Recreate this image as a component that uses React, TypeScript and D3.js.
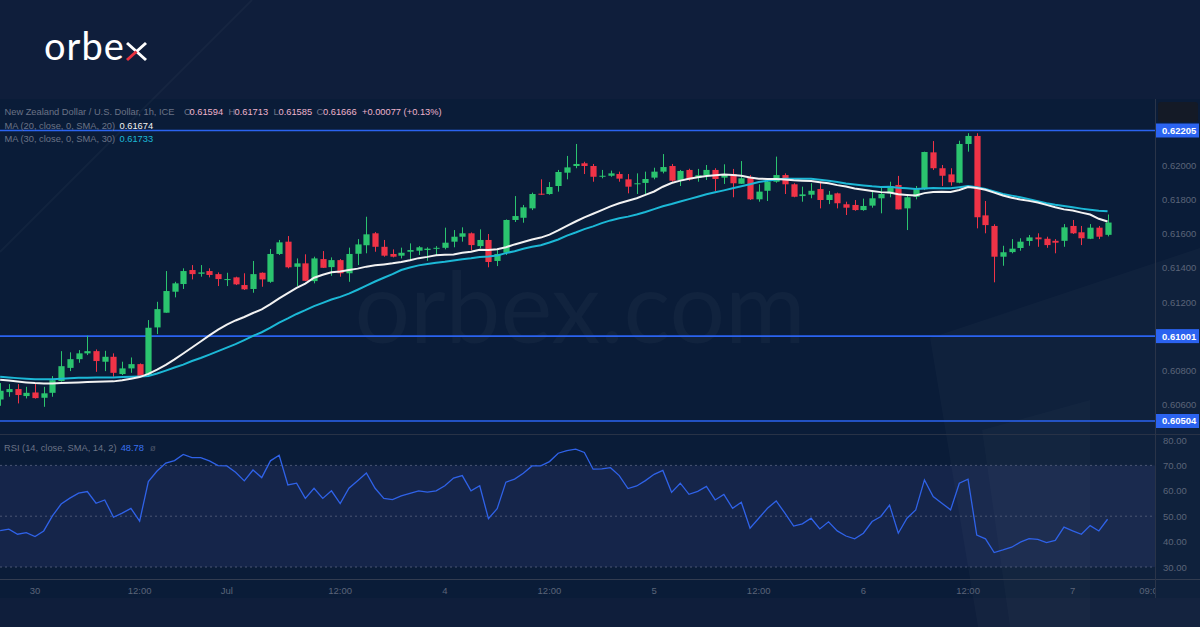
import React from "react";
import * as d3 from "d3";

// ---------- DATA (NZD/USD 1h, bars from Jun 29 20:00 to Jul 7 04:00) ----------
const opens = [
  0.6063, 0.60673, 0.60691, 0.6065, 0.60671, 0.6064, 0.60669, 0.60738, 0.60815, 0.60866,
  0.609, 0.60913, 0.60851, 0.6088, 0.60779, 0.60812, 0.60837, 0.60773, 0.61052, 0.61138,
  0.61261, 0.61306, 0.61388, 0.61366, 0.61382, 0.61364, 0.61332, 0.61345, 0.613, 0.61277,
  0.61372, 0.61319, 0.61482, 0.61554, 0.61407, 0.61427, 0.61323, 0.61452, 0.61405, 0.61446,
  0.61369, 0.61483, 0.61533, 0.61603, 0.61524, 0.61482, 0.61472, 0.61495, 0.61501, 0.61505,
  0.61513, 0.61518, 0.61554, 0.61583, 0.61603, 0.61528, 0.61564, 0.61441, 0.61489, 0.61681,
  0.61694, 0.61749, 0.61835, 0.61833, 0.6188, 0.61958, 0.61997, 0.62013, 0.61997, 0.61934,
  0.6194, 0.6195, 0.61919, 0.6189, 0.61898, 0.61929, 0.61964, 0.61997, 0.61915, 0.61974,
  0.61929, 0.61943, 0.61974, 0.61929, 0.6195, 0.61893, 0.61931, 0.61802, 0.61852, 0.61905,
  0.61944, 0.6189, 0.61821, 0.61829, 0.61862, 0.61798, 0.61837, 0.61773, 0.61769, 0.61739,
  0.61765, 0.61808, 0.61837, 0.61886, 0.61749, 0.61817, 0.61861, 0.62077, 0.61984, 0.61948,
  0.61899, 0.62126, 0.62173, 0.61708, 0.61646, 0.61466, 0.61493, 0.61517, 0.61558, 0.61579,
  0.61571, 0.61559, 0.61559, 0.61646, 0.61609, 0.61571, 0.61636, 0.61594,
];
const highs = [
  0.60726, 0.6072, 0.6072, 0.60704, 0.6072, 0.60704, 0.60767, 0.60913, 0.60906, 0.60919,
  0.61003, 0.60923, 0.60915, 0.609, 0.60851, 0.60876, 0.60841, 0.61095, 0.61202, 0.61382,
  0.61319, 0.61398, 0.61417, 0.61417, 0.61398, 0.61374, 0.61372, 0.61349, 0.61369, 0.61441,
  0.61374, 0.61511, 0.61564, 0.61587, 0.61456, 0.6148, 0.61466, 0.61499, 0.61462, 0.61452,
  0.61519, 0.61569, 0.617, 0.6161, 0.61564, 0.61509, 0.61519, 0.61544, 0.61528, 0.61521,
  0.61528, 0.61636, 0.61622, 0.61638, 0.61608, 0.61626, 0.61599, 0.61505, 0.61684, 0.61821,
  0.61769, 0.61841, 0.61919, 0.61903, 0.61974, 0.62056, 0.62126, 0.62022, 0.62009, 0.61974,
  0.6197, 0.61964, 0.6195, 0.61954, 0.61964, 0.61987, 0.62067, 0.62009, 0.61974, 0.61981,
  0.6198, 0.62003, 0.61984, 0.62007, 0.6198, 0.62026, 0.61944, 0.6189, 0.61909, 0.62052,
  0.61954, 0.61896, 0.61876, 0.61896, 0.61905, 0.61851, 0.61841, 0.61788, 0.61798, 0.61806,
  0.61851, 0.61876, 0.61905, 0.61939, 0.61827, 0.6188, 0.62081, 0.62143, 0.62003, 0.61984,
  0.62145, 0.62189, 0.62189, 0.61792, 0.61656, 0.6153, 0.61569, 0.61574, 0.61593, 0.61603,
  0.61583, 0.61569, 0.61657, 0.61681, 0.61646, 0.61657, 0.61646, 0.61713,
];
const lows = [
  0.60593, 0.60646, 0.60607, 0.60636, 0.60635, 0.60587, 0.60646, 0.60734, 0.60796, 0.60845,
  0.6089, 0.60792, 0.60796, 0.60763, 0.60773, 0.60786, 0.60763, 0.60763, 0.61013, 0.61138,
  0.61228, 0.61277, 0.61333, 0.61349, 0.61345, 0.61294, 0.61294, 0.613, 0.61271, 0.61255,
  0.6129, 0.61313, 0.61476, 0.61398, 0.61294, 0.61323, 0.6131, 0.614, 0.61354, 0.61349,
  0.61319, 0.61417, 0.61486, 0.61495, 0.61466, 0.61462, 0.61456, 0.61442, 0.61476, 0.61442,
  0.6147, 0.61509, 0.61521, 0.61554, 0.61505, 0.61515, 0.61404, 0.61411, 0.61476, 0.61669,
  0.61665, 0.61739, 0.61827, 0.61829, 0.61847, 0.61919, 0.61984, 0.6195, 0.61905, 0.61925,
  0.61934, 0.61905, 0.61837, 0.61833, 0.61833, 0.61919, 0.61954, 0.61905, 0.6188, 0.61911,
  0.61905, 0.61915, 0.61851, 0.61892, 0.61814, 0.61892, 0.61798, 0.61788, 0.61792, 0.61899,
  0.61833, 0.61814, 0.61788, 0.61808, 0.61749, 0.61774, 0.61749, 0.6171, 0.61735, 0.61735,
  0.61753, 0.6172, 0.61814, 0.61743, 0.61622, 0.61802, 0.61856, 0.61974, 0.6188, 0.61882,
  0.61896, 0.62081, 0.61632, 0.61603, 0.61316, 0.61413, 0.61486, 0.61501, 0.6153, 0.61524,
  0.61518, 0.61486, 0.61524, 0.61599, 0.61534, 0.61569, 0.61569, 0.61585,
];
const closes = [
  0.60681, 0.60691, 0.60656, 0.60669, 0.60638, 0.60666, 0.60743, 0.60825, 0.60866, 0.609,
  0.60913, 0.60855, 0.6088, 0.60786, 0.60812, 0.60837, 0.60767, 0.6105, 0.61159, 0.61265,
  0.6131, 0.61382, 0.61364, 0.61374, 0.61359, 0.61335, 0.61335, 0.61304, 0.61275, 0.61364,
  0.61333, 0.61482, 0.6155, 0.61404, 0.61427, 0.61325, 0.61456, 0.61401, 0.61446, 0.61369,
  0.61482, 0.61538, 0.61597, 0.61524, 0.61472, 0.61466, 0.61489, 0.61505, 0.61521, 0.61513,
  0.61518, 0.61548, 0.61583, 0.61603, 0.61534, 0.61564, 0.61435, 0.61482, 0.61681, 0.61704,
  0.61755, 0.61833, 0.61829, 0.61874, 0.61962, 0.61989, 0.62009, 0.61997, 0.61934, 0.6194,
  0.61954, 0.61923, 0.61876, 0.61896, 0.61921, 0.61964, 0.61991, 0.61911, 0.61968, 0.61919,
  0.61943, 0.61974, 0.61921, 0.6195, 0.61896, 0.61925, 0.61802, 0.61847, 0.61905, 0.61944,
  0.6189, 0.61817, 0.61831, 0.61852, 0.61798, 0.61829, 0.61779, 0.61753, 0.61739, 0.61763,
  0.61808, 0.61833, 0.6188, 0.61743, 0.61814, 0.61861, 0.62079, 0.61984, 0.6194, 0.61902,
  0.62126, 0.62173, 0.61697, 0.61651, 0.61466, 0.61492, 0.61513, 0.61554, 0.61579, 0.61568,
  0.61534, 0.61548, 0.61638, 0.61603, 0.61574, 0.61636, 0.61583, 0.61666,
];
// MA values for the bars before a full window exists
const ma20Lead = [
  0.60746, 0.60741, 0.60735, 0.6073, 0.60726, 0.60724, 0.60724, 0.60726, 0.60728, 0.6073,
  0.60732, 0.60734, 0.60735, 0.60736, 0.60743, 0.60752, 0.60761, 0.6078, 0.60805,
];
const ma30Lead = [
  0.60763, 0.60759, 0.60755, 0.60751, 0.60748, 0.60748, 0.60749, 0.60752, 0.60755, 0.60757,
  0.60757, 0.60758, 0.60759, 0.60759, 0.60761, 0.60763, 0.60765, 0.60767, 0.60782, 0.60799,
  0.60817, 0.60834, 0.60855, 0.60873, 0.60893, 0.60913, 0.60934, 0.60954, 0.60978,
];
const rsiValues = [
  44.3, 44.9, 42.9, 43.5, 42.0, 44.2, 50.1, 54.8, 57.1, 59.1,
  59.7, 55.1, 56.4, 49.6, 51.2, 53.1, 48.1, 63.6, 67.8, 70.9,
  71.9, 74.3, 73.1, 73.1, 71.8, 69.9, 69.8, 67.3, 63.9, 68.2,
  65.2, 71.8, 74.0, 62.3, 63.0, 57, 61, 57, 60, 55,
  61, 64, 67, 61, 57, 56.5, 58, 59, 60, 59.5,
  60, 62, 65, 66, 60, 62, 49, 53, 63.4, 64.6,
  66.9, 69.8, 69.8, 71.5, 74.8, 75.8, 76.4, 75.1, 68.5, 68.6,
  69.1, 66.0, 60.9, 61.9, 64.0, 66.5, 68.0, 59.4, 63.0, 58.6,
  59.8, 61.7, 56.4, 58.6, 53.1, 55.5, 45.3, 49.2, 53.1, 56.0,
  51.2, 46.1, 47.0, 49.2, 45.0, 47.8, 44.2, 42.2, 41.1, 43.3,
  47.9, 49.9, 54.4, 43.3, 49.2, 52.5, 64.3, 57.7, 55.1, 52.5,
  63.0, 64.6, 42.6, 41.1, 35.7, 36.7, 37.8, 39.8, 41.2, 40.9,
  39.6, 40.5, 45.7, 44.2, 42.9, 46.3, 44.2, 48.8,
];
const timeTickBars = [4, 16, 26, 39, 51, 63, 75, 87, 99, 111, 123, 132];
const timeTickLabels = ["30", "12:00", "Jul", "12:00", "4", "12:00", "5", "12:00", "6", "12:00", "7", "09:00"];
const priceTicks = [0.62, 0.618, 0.616, 0.614, 0.612, 0.61, 0.608, 0.606];
const levelPrices = [0.62205, 0.61001, 0.60504];
const rsiTicks = [80, 70, 60, 50, 40, 30];
const rsiGuides = [70, 50, 30];

// ---------- STYLE ----------
const FONT = "'Liberation Sans', Arial, sans-serif";
const GREEN = "#2bc46f";
const RED = "#ef3347";
const LEVEL = "#2b63f0";
const AXIS_TXT = "#5b6478";
const PLOT_R = 1155;

export default function App() {
  const n = closes.length;
  const step = 8.72;
  const x = d3.scaleLinear().domain([0, n - 1]).range([0.12, 0.12 + step * (n - 1)]);
  const y = d3.scaleLinear().domain([0.606, 0.62]).range([404.6, 165.5]);
  const yR = d3.scaleLinear().domain([30, 80]).range([567, 440]);
  const bw = 6.2;

  const sma = (period: number, lead: number[]) =>
    closes.map((_, i) =>
      i < lead.length ? lead[i] : (d3.mean(closes.slice(i - period + 1, i + 1)) as number)
    );
  const ma20 = sma(20, ma20Lead);
  const ma30 = sma(30, ma30Lead);

  const maLine = d3
    .line<number>()
    .x((_, i) => x(i))
    .y((v) => y(v));
  const rsiLine = d3
    .line<number>()
    .x((_, i) => x(i))
    .y((v) => yR(v));

  const fmt = d3.format(".5f");

  return (
    <svg width={1200} height={627} style={{ display: "block", position: "absolute", left: 0, top: 0 }}>
      <defs>
        <clipPath id="mainClip">
          <rect x={0} y={100} width={PLOT_R} height={333} />
        </clipPath>
        <clipPath id="rsiClip">
          <rect x={0} y={435} width={PLOT_R} height={143} />
        </clipPath>
        <clipPath id="timeClip">
          <rect x={0} y={580} width={PLOT_R} height={20} />
        </clipPath>
      </defs>

      {/* page background */}
      <rect x={0} y={0} width={1200} height={627} fill="#0f1e3b" />
      {/* chart background */}
      <rect x={0} y={99} width={1200} height={499} fill="#0a1c38" />
      {/* RSI band */}
      <rect x={0} y={yR(70)} width={PLOT_R} height={yR(30) - yR(70)} fill="#15254a" />

      {/* faint decorative shapes */}
      <line x1={0} y1={252} x2={252} y2={0} stroke="#ffffff" strokeOpacity={0.03} strokeWidth={2} />
      <polygon points="930,338 1200,248 1200,627 978,627" fill="#ffffff" fillOpacity={0.022} />
      <polygon points="982,430 1090,400 1090,627 1010,627" fill="#ffffff" fillOpacity={0.018} />

      {/* watermark */}
      <text x={580} y={343} textAnchor="middle" fontFamily="Lato, 'Open Sans', sans-serif" fontSize={98} fill="#ffffff" fillOpacity={0.03}>
        orbex.com
      </text>

      {/* RSI guides */}
      {rsiGuides.map((g) => (
        <line key={g} x1={0} x2={PLOT_R} y1={yR(g)} y2={yR(g)} stroke="#4a5673" strokeWidth={1} strokeDasharray="2,3" />
      ))}

      {/* level lines */}
      {levelPrices.map((p) => (
        <line key={p} x1={0} x2={PLOT_R} y1={y(p)} y2={y(p)} stroke={LEVEL} strokeWidth={1.6} />
      ))}

      {/* candles */}
      <g clipPath="url(#mainClip)">
        {closes.map((c, i) => {
          const o = opens[i];
          const up = c >= o;
          const col = up ? GREEN : RED;
          const cx = Math.round(x(i)) + 0.5;
          const top = y(Math.max(o, c));
          const bot = y(Math.min(o, c));
          return (
            <g key={i}>
              <line x1={cx} x2={cx} y1={y(highs[i])} y2={y(lows[i])} stroke={col} strokeWidth={1} />
              <rect x={cx - bw / 2} y={top} width={bw} height={Math.max(1, bot - top)} fill={col} />
            </g>
          );
        })}
        <path d={maLine(ma30) || ""} fill="none" stroke="#1cb8d6" strokeWidth={2} />
        <path d={maLine(ma20) || ""} fill="none" stroke="#f2f2f2" strokeWidth={2} />
      </g>

      {/* RSI line */}
      <g clipPath="url(#rsiClip)">
        <path d={rsiLine(rsiValues) || ""} fill="none" stroke="#2f62e8" strokeWidth={1.3} />
      </g>

      {/* pane separators & axes */}
      <line x1={0} x2={1200} y1={434.5} y2={434.5} stroke="#283246" strokeWidth={1} />
      <line x1={0} x2={1200} y1={579.5} y2={579.5} stroke="#323c50" strokeWidth={1} />
      <line x1={PLOT_R + 0.5} x2={PLOT_R + 0.5} y1={99} y2={598} stroke="#2a3448" strokeWidth={1} />
      <rect x={1158} y={102} width={40} height={20} rx={3} fill="#141a26" />

      {/* price axis labels */}
      {priceTicks
        .filter((p) => levelPrices.every((l) => Math.abs(y(l) - y(p)) > 12))
        .map((p) => (
          <text key={p} x={1162} y={y(p) + 3.5} fontFamily={FONT} fontSize={9.5} fill={AXIS_TXT}>
            {fmt(p)}
          </text>
        ))}
      {levelPrices.map((p) => (
        <g key={p}>
          <rect x={1156} y={y(p) - 7} width={43} height={14} fill={LEVEL} />
          <text x={1162} y={y(p) + 3.5} fontFamily={FONT} fontSize={9.5} fontWeight={700} fill="#ffffff">
            {fmt(p)}
          </text>
        </g>
      ))}

      {/* RSI axis labels */}
      {rsiTicks.map((t) => (
        <text key={t} x={1163} y={yR(t) + 3.5} fontFamily={FONT} fontSize={9.5} fill={AXIS_TXT}>
          {t.toFixed(2)}
        </text>
      ))}

      {/* time axis labels */}
      <g clipPath="url(#timeClip)">
        {timeTickBars.map((b, i) => (
          <text key={i} x={x(b)} y={594} textAnchor="middle" fontFamily={FONT} fontSize={9.5} fill={AXIS_TXT}>
            {timeTickLabels[i]}
          </text>
        ))}
      </g>

      {/* legend texts */}
      <g fontFamily={FONT} fontSize={9.3}>
        <text x={4.5} y={115} fill="#6b7386">New Zealand Dollar / U.S. Dollar, 1h, ICE</text>
        <text x={184} y={115} fill="#6b7386">O</text>
        <text x={189.5} y={115} fill="#eeb3cc">0.61594</text>
        <text x={228.5} y={115} fill="#6b7386">H</text>
        <text x={234.5} y={115} fill="#eeb3cc">0.61713</text>
        <text x={273.5} y={115} fill="#6b7386">L</text>
        <text x={278.5} y={115} fill="#eeb3cc">0.61585</text>
        <text x={316.5} y={115} fill="#6b7386">C</text>
        <text x={323} y={115} fill="#eeb3cc">0.61666</text>
        <text x={362} y={115} fill="#eeb3cc">+0.00077 (+0.13%)</text>
        <text x={4.5} y={128.5} fill="#6b7386">MA (20, close, 0, SMA, 20)</text>
        <text x={119.5} y={128.5} fill="#f2f2f2">0.61674</text>
        <text x={4.5} y={142.3} fill="#6b7386">MA (30, close, 0, SMA, 30)</text>
        <text x={119.5} y={142.3} fill="#1cb8d6">0.61733</text>
        <text x={4} y={450.5} fill="#6b7386">RSI (14, close, SMA, 14, 2)</text>
        <text x={120.7} y={450.5} fill="#3a72f2">48.78</text>
        <text x={150} y={450.5} fill="#4b5468">ø</text>
      </g>

      {/* logo */}
      <g>
        <text x={44} y={60} fontFamily="Lato, 'Open Sans', sans-serif" fontSize={38} fill="#ffffff" letterSpacing={1}>
          orbe
        </text>
        <line x1={127} y1={43} x2={146} y2={60} stroke="#ffffff" strokeWidth={3} />
        <line x1={146} y1={43} x2={136.5} y2={51.5} stroke="#ffffff" strokeWidth={3} />
        <line x1={136.5} y1={51.5} x2={127} y2={60} stroke="#e8313f" strokeWidth={3} />
      </g>
    </svg>
  );
}
